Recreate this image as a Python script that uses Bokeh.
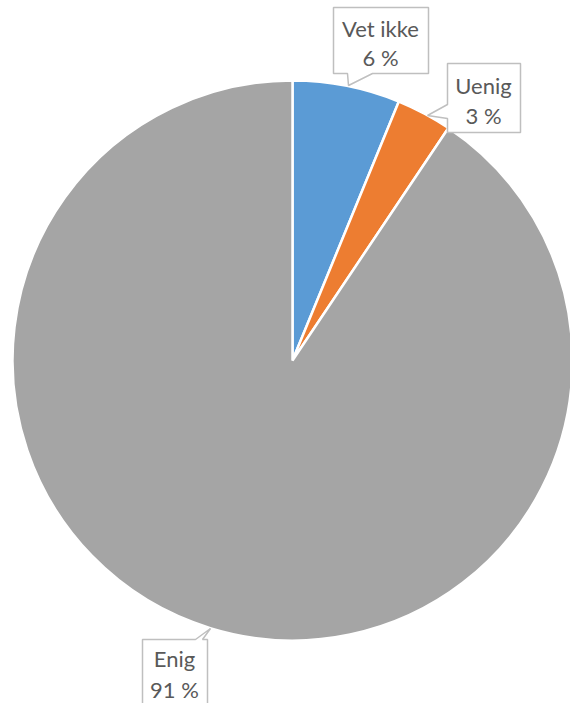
import math
from bokeh.plotting import figure
from bokeh.models import Range1d, ColumnDataSource
from bokeh.core.properties import value
from bokeh.embed import file_html
from bokeh.resources import INLINE

# ---- data ----
categories = ["Vet ikke", "Uenig", "Enig"]
values = [6.2, 3.2, 90.6]
pct_labels = ["6 %", "3 %", "91 %"]
colors = ["#5B9BD5", "#ED7D31", "#A5A5A5"]

W, H = 570, 703
p = figure(width=W, height=H, output_backend="svg", toolbar_location=None,
           x_range=Range1d(0, W), y_range=Range1d(0, H), min_border=0,
           outline_line_color=None, background_fill_color="white",
           border_fill_color="white")
p.axis.visible = False
p.grid.visible = False

def Y(y):  # image coordinates -> plot coordinates
    return H - y

cx, cy, r = 292, Y(360), 280
total = sum(values)
starts, ends = [], []
acc = 0.0
for v in values:
    a0 = math.pi / 2 - 2 * math.pi * acc / total
    acc += v
    a1 = math.pi / 2 - 2 * math.pi * acc / total
    starts.append(a0)
    ends.append(a1)

src = ColumnDataSource(dict(cat=categories, val=values, start=starts, end=ends, color=colors))
p.wedge(x=cx, y=cy, radius=r, start_angle="start", end_angle="end", direction="clock",
        fill_color="color", line_color="white", line_width=2.5, source=src)

# ---- callout boxes (layout, image coordinates) ----
boxes = [
    [(333, 7), (428, 7), (428, 73), (372, 73), (348, 85), (347, 73), (333, 73)],
    [(447, 63), (520, 63), (520, 132), (447, 132), (447, 118), (427, 115), (447, 104)],
    [(142, 639), (195, 639), (210, 628), (202, 639), (207, 639), (207, 720), (142, 720)],
]
text_pos = [(380, 28, 57), (483, 85, 115), (174, 658, 689)]

for poly in boxes:
    p.patch([pt[0] for pt in poly], [Y(pt[1]) for pt in poly], fill_color="white",
            line_color="#BFBFBF", line_width=1.5)

for cat, lab, (tx, y1, y2) in zip(categories, pct_labels, text_pos):
    p.text(x=[tx, tx], y=[Y(y1), Y(y2)], text=[cat, lab], text_font=value("Lato"),
           text_font_size="22px", text_color="#595959", text_align="center",
           text_baseline="alphabetic")

open("out.html", "w").write(file_html(p, INLINE))
